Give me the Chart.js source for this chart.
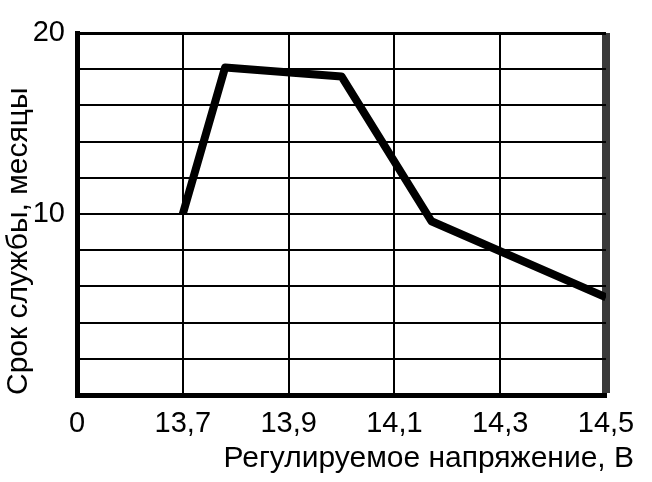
<!DOCTYPE html>
<html>
<head>
<meta charset="utf-8">
<script src="https://cdn.jsdelivr.net/npm/chart.js@4"></script>
<style>
  body { margin: 0; background: #fff; }
  canvas { display: block; }
</style>
</head>
<body>
<canvas id="grafica" width="652" height="482"></canvas>
<script>
// напряжение (В) и срок службы (мес.)
const voltage = [13.7, 13.78, 14.0, 14.17, 14.5];
const lifetime = [10, 18.1, 17.6, 9.6, 5.4];
const xTicks = [13.5, 13.7, 13.9, 14.1, 14.3, 14.5];
const xTickLabels = ['0', '13,7', '13,9', '14,1', '14,3', '14,5'];
const yTickLabels = {10: '10', 20: '20'};
const xTitle = 'Регулируемое напряжение, В';
const yTitle = 'Срок службы, месяцы';

const fontFam = '"Liberation Sans", Arial, sans-serif';

const xTitlePlugin = {
  id: 'xTitle',
  afterDraw(chart) {
    const ctx = chart.ctx;
    ctx.save();
    ctx.font = '30px ' + fontFam;
    ctx.fillStyle = '#000';
    ctx.textAlign = 'right';
    ctx.textBaseline = 'middle';
    ctx.fillText(xTitle, 634, 459);
    ctx.restore();
  }
};

let micanvas = document.getElementById('grafica').getContext('2d');
var chart = new Chart(micanvas, {
  type: 'line',
  data: {
    datasets: [{
      data: voltage.map((v, i) => ({x: v, y: lifetime[i]})),
      borderColor: '#000',
      borderWidth: 8,
      pointRadius: 0,
      tension: 0,
      borderJoinStyle: 'round'
    }]
  },
  options: {
    responsive: false,
    animation: false,
    layout: { padding: { top: 33, right: 46, left: 0, bottom: 0 } },
    plugins: { legend: { display: false }, tooltip: { enabled: false } },
    scales: {
      x: {
        type: 'linear',
        min: 13.5,
        max: 14.5,
        afterBuildTicks: axis => { axis.ticks = xTicks.map(v => ({value: v})); },
        afterFit: scale => { scale.height = 87; },
        ticks: {
          color: '#000',
          font: { size: 29, family: fontFam },
          padding: 12,
          maxRotation: 0,
          autoSkip: false,
          callback: (v, i) => xTickLabels[i]
        },
        grid: {
          color: ctx => ctx.index === xTicks.length - 1 ? '#3a3a3a' : '#000',
          lineWidth: ctx => ctx.index === xTicks.length - 1 ? 8 : 2,
          drawTicks: false
        },
        border: { display: true, color: '#000', width: 5 }
      },
      y: {
        min: 0,
        max: 20,
        afterFit: scale => { scale.width = 77; },
        ticks: {
          stepSize: 2,
          autoSkip: false,
          color: '#000',
          font: { size: 29, family: fontFam },
          padding: 12,
          callback: v => yTickLabels[v] || ''
        },
        grid: {
          color: '#000',
          lineWidth: ctx => ctx.tick && ctx.tick.value === 20 ? 3 : 2,
          drawTicks: false
        },
        border: { display: true, color: '#000', width: 5 },
        title: {
          display: true,
          text: yTitle,
          align: 'start',
          color: '#000',
          font: { size: 30, family: fontFam },
          padding: { top: 1, bottom: 0 }
        }
      }
    }
  },
  plugins: [xTitlePlugin]
});
</script>
</body>
</html>
